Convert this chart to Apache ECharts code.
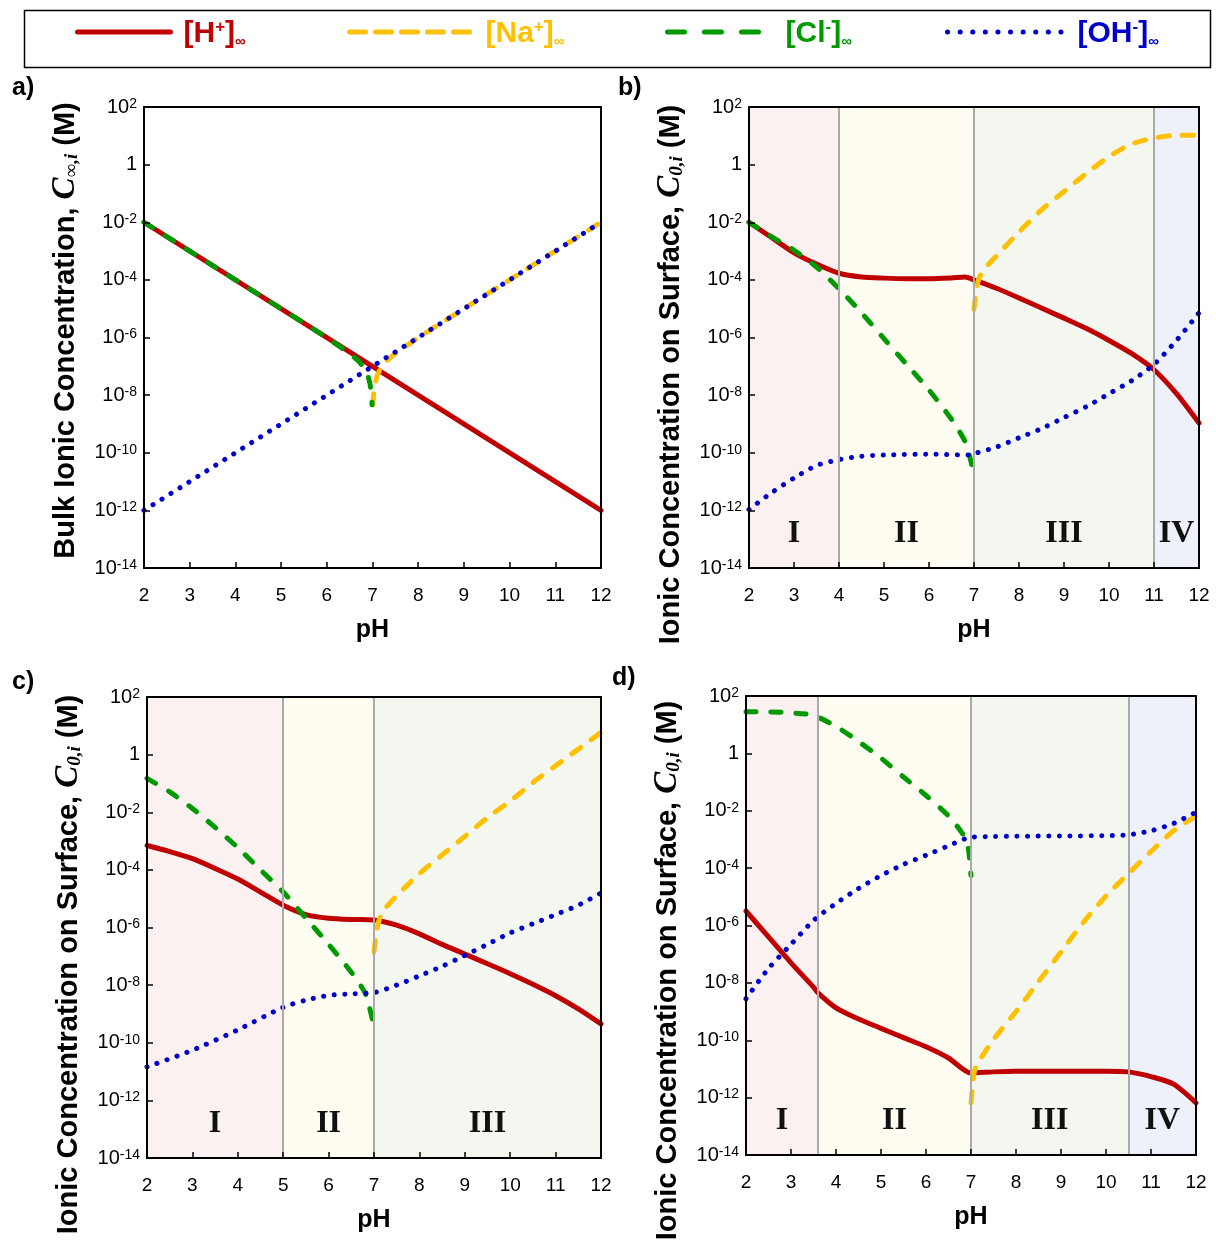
<!DOCTYPE html>
<html><head><meta charset="utf-8">
<script src="https://cdn.jsdelivr.net/npm/echarts@6.0.0/dist/echarts.min.js"></script>
<style>html,body{margin:0;padding:0;background:#fff}#c{width:1216px;height:1244px}</style>
</head><body><div id="c"></div>
<script>
// ---------- data (pH, concentration in M) ----------
const pHMin = 2, pHMax = 12;
const concMin = 1e-14, concMax = 1e2;

// a) bulk
const aH  = [[2,1e-2],[7,1e-7],[12,1e-12]];
const aNa = [[7.01,4.6e-9],[7.02,9e-9],[7.05,2.3e-8],[7.1,4.7e-8],[7.15,7e-8],[7.2,9.5e-8],[7.3,1.5e-7],[7.5,2.8e-7],[8,9.9e-7],[9,1e-5],[10,1e-4],[11,1e-3],[12,1e-2]];
const aCl = [[2,1e-2],[3,1e-3],[4,1e-4],[5,1e-5],[6,9.9e-7],[6.5,2.8e-7],[6.7,1.5e-7],[6.8,9.5e-8],[6.85,7e-8],[6.9,4.7e-8],[6.95,2.3e-8],[6.98,9e-9],[6.99,4.6e-9]];
const aOH = [[2,1e-12],[7,1e-7],[12,1e-2]];

// b) surface
const bH  = [[2,1e-2],[2.5,2.95e-3],[3,8.7e-4],[3.5,3.55e-4],[4,1.7e-4],[4.5,1.26e-4],[5,1.15e-4],[5.5,1.1e-4],[6,1.1e-4],[6.5,1.17e-4],[6.8,1.26e-4],[7,1e-4],[7.5,5.1e-5],[8,2.35e-5],[8.5,1.05e-5],[9,4.7e-6],[9.5,2.04e-6],[10,7.9e-7],[10.5,2.8e-7],[11,7.6e-8],[11.5,1.12e-8],[12,1.07e-9]];
const bNa = [[7,9.5e-6],[7.05,4.2e-5],[7.1,1e-4],[7.2,2.1e-4],[7.5,6.8e-4],[8,4.6e-3],[8.5,2.7e-2],[9,0.117],[9.5,0.5],[10,1.9],[10.5,5.2],[11,8.3],[11.5,10.5],[12,10.5]];
const bCl = [[2,1e-2],[2.5,3.16e-3],[3,1.07e-3],[3.5,2.8e-4],[4,4.9e-5],[4.5,7.2e-6],[5,9.1e-7],[5.5,1.17e-7],[6,1.5e-8],[6.5,1.45e-9],[6.8,2.5e-10],[6.9,7.9e-11],[7,1.8e-11]];
const bOH = [[2,1.07e-12],[2.5,4.1e-12],[3,1.32e-11],[3.5,3.6e-11],[4,5.75e-11],[4.5,7.6e-11],[5,8.3e-11],[6,8.9e-11],[6.9,8.3e-11],[7,9.3e-11],[7.5,1.58e-10],[8,3.3e-10],[8.5,6.9e-10],[9,1.66e-9],[9.5,4e-9],[10,1.12e-8],[10.5,3.16e-8],[11,1.17e-7],[11.5,7.9e-7],[12,7.2e-6]];

// c) surface
const cH  = [[2,7e-4],[2.5,4.3e-4],[3,2.45e-4],[3.5,1.12e-4],[4,4.8e-5],[4.5,1.7e-5],[5,5.9e-6],[5.5,2.8e-6],[6,2.1e-6],[6.5,1.9e-6],[7,1.82e-6],[7.5,1.2e-6],[8,6e-7],[8.5,2.6e-7],[9,1.2e-7],[9.5,5.5e-8],[10,2.5e-8],[10.5,1.07e-8],[11,4.3e-9],[11.5,1.5e-9],[12,4.5e-10]];
const cNa = [[7,1.45e-7],[7.05,6.5e-7],[7.1,1.55e-6],[7.2,3.8e-6],[7.5,1.26e-5],[8,7.4e-5],[8.5,3.3e-4],[9,1.45e-3],[9.5,6.5e-3],[10,2.45e-2],[10.5,0.107],[11,0.41],[11.5,1.55],[12,5.9]];
const cCl = [[2,0.15],[2.5,5.1e-2],[3,1.35e-2],[3.5,3e-3],[4,5.9e-4],[4.5,1e-4],[5,1.7e-5],[5.5,2.1e-6],[6,2.6e-7],[6.5,2.8e-8],[6.8,5.5e-9],[6.9,1.7e-9],[7,3.8e-10]];
const cOH = [[2,1.45e-11],[3,5.5e-11],[4,2.8e-10],[5,1.7e-9],[5.5,3e-9],[6,4.4e-9],[6.5,5e-9],[7,5.5e-9],[7.5,1e-8],[8,2.1e-8],[8.5,4.5e-8],[9,1.07e-7],[9.5,2.6e-7],[10,6.5e-7],[10.5,1.35e-6],[11,2.8e-6],[11.5,5.9e-6],[12,1.58e-5]];

// d) surface
const dH  = [[2,3.2e-6],[2.5,4e-7],[3,5e-8],[3.5,7.1e-9],[3.6,4.5e-9],[4,1.35e-9],[4.5,5.5e-10],[5,2.6e-10],[5.5,1.23e-10],[6,5.9e-11],[6.5,2.4e-11],[7,7.2e-12],[7.5,7.9e-12],[8,8.3e-12],[9,8.3e-12],[10,8.3e-12],[10.5,7.9e-12],[11,5.4e-12],[11.5,2.95e-12],[12,6.6e-13]];
const dNa = [[7,6.6e-13],[7.05,4.6e-12],[7.1,1.12e-11],[7.3,3.7e-11],[7.5,1.07e-10],[8,1e-9],[8.5,1.1e-8],[9,1.2e-7],[9.5,1.3e-6],[10,1.07e-5],[10.5,6.5e-5],[11,3.8e-4],[11.5,2e-3],[12,6.6e-3]];
const dCl = [[2,28],[2.5,28],[3,26],[3.5,21],[4,8.7],[4.5,2.6],[5,0.68],[5.5,0.15],[6,3.4e-2],[6.5,6.6e-3],[6.8,1.7e-3],[6.9,8.1e-4],[6.95,3.8e-4],[7,5.5e-5]];
const dOH = [[2,2.8e-9],[2.5,3.16e-8],[3,2.2e-7],[3.5,1.5e-6],[4,5.9e-6],[4.5,1.95e-5],[5,5.5e-5],[5.5,1.35e-4],[6,2.8e-4],[6.5,6e-4],[7,1.2e-3],[7.5,1.26e-3],[8,1.29e-3],[9,1.32e-3],[10,1.35e-3],[10.5,1.45e-3],[11,2e-3],[11.5,3.6e-3],[12,8.9e-3]];

// regions [from pH, to pH, label]
const bRegions = [[2,4,'I'],[4,7,'II'],[7,11,'III'],[11,12,'IV']];
const cRegions = [[2,5,'I'],[5,7,'II'],[7,12,'III']];
const dRegions = [[2,3.6,'I'],[3.6,7,'II'],[7,10.5,'III'],[10.5,12,'IV']];

const panelLabels = ['a)','b)','c)','d)'];

// ---------- styles / layout ----------
const SANS = "'Liberation Sans', Arial, Helvetica, sans-serif";
const SERIF = "'Liberation Serif', 'Times New Roman', serif";
const ionColor = {H:'#c00000', Na:'#ffc000', Cl:'#009a00', OH:'#0000cc'};
const ionDash = {H:'solid', Na:[11,13], Cl:[10,15], OH:[0.1,10.5]};
const legendDash = {H:'solid', Na:[16,10], Cl:[17,20], OH:[0.1,12.5]};
const regionColor = {I:'#fbf1f1', II:'#fffdf2', III:'#f3f7f0', IV:'#eef0fa'};

const grids = [
  {left:144, top:107, width:457, height:461},
  {left:749, top:107, width:450, height:461},
  {left:147, top:697, width:454, height:461},
  {left:746, top:696, width:450, height:459}
];
const panelData = [
  {H:aH, Na:aNa, Cl:aCl, OH:aOH, regions:null},
  {H:bH, Na:bNa, Cl:bCl, OH:bOH, regions:bRegions},
  {H:cH, Na:cNa, Cl:cCl, OH:cOH, regions:cRegions},
  {H:dH, Na:dNa, Cl:dCl, OH:dOH, regions:dRegions}
];
const labelPos = [[12,76],[618,76],[12,670],[612,666]];
const yNames = [
  'Bulk Ionic Concentration, {c|C}{s|∞,i} (M)',
  'Ionic Concentration on Surface, {c|C}{s|0,i} (M)',
  'Ionic Concentration on Surface, {c|C}{s|0,i} (M)',
  'Ionic Concentration on Surface, {c|C}{s|0,i} (M)'
];
const yNamePad = [[0,0,0,14],[0,74,0,0],[0,74,0,0],[0,90,0,0]];

function expLabel(v){
  const e = Math.round(Math.log10(v));
  return e === 0 ? '1' : '10{sup|' + e + '}';
}

const xAxes = [], yAxes = [], series = [];
grids.forEach((g, p) => {
  xAxes.push({
    gridIndex:p, type:'value', min:pHMin, max:pHMax, interval:1, z:10,
    name:'pH', nameLocation:'middle', nameGap:50,
    nameTextStyle:{fontFamily:SANS, fontWeight:'bold', fontSize:25, color:'#000'},
    axisLine:{show:true, onZero:false, lineStyle:{color:'#000', width:2}},
    axisTick:{show:true, inside:true, length:6, lineStyle:{color:'#000', width:1.5}},
    axisLabel:{fontFamily:SANS, fontSize:19, color:'#000', margin:18},
    splitLine:{show:false}
  });
  yAxes.push({
    gridIndex:p, type:'log', logBase:10, min:concMin, max:concMax, interval:2, z:10,
    name:yNames[p], nameLocation:'middle', nameRotate:90, nameGap:62,
    nameTextStyle:{fontFamily:SANS, fontWeight:'bold', fontSize:29, color:'#000', padding:yNamePad[p],
      rich:{
        c:{fontFamily:SERIF, fontStyle:'italic', fontWeight:'bold', fontSize:33, color:'#000'},
        s:{fontFamily:SERIF, fontStyle:'italic', fontWeight:'bold', fontSize:19, color:'#000', verticalAlign:'bottom'}
      }},
    axisLine:{show:true, onZero:false, lineStyle:{color:'#000', width:2}},
    axisTick:{show:true, inside:true, length:6, lineStyle:{color:'#000', width:1.5}},
    axisLabel:{fontFamily:SANS, fontSize:20, color:'#000', margin:7, formatter:expLabel,
      rich:{sup:{fontFamily:SANS, fontSize:14, color:'#000', verticalAlign:'top'}}},
    splitLine:{show:false}
  });
});
// frame: top and right edges
grids.forEach((g, p) => {
  xAxes.push({gridIndex:p, type:'value', position:'top', min:pHMin, max:pHMax, z:10,
    axisLine:{show:true, onZero:false, lineStyle:{color:'#000', width:2}},
    axisTick:{show:false}, axisLabel:{show:false}, splitLine:{show:false}});
  yAxes.push({gridIndex:p, type:'log', position:'right', min:concMin, max:concMax, z:10,
    axisLine:{show:true, onZero:false, lineStyle:{color:'#000', width:2}},
    axisTick:{show:false}, axisLabel:{show:false}, splitLine:{show:false}});
});

panelData.forEach((pd, p) => {
  if (pd.regions) {
    series.push({
      type:'line', name:'regions'+p, data:[], xAxisIndex:p, yAxisIndex:p, z:1, silent:true,
      markArea:{silent:true,
        label:{show:true, position:'insideBottom', distance:18, fontFamily:SERIF, fontWeight:'bold', fontSize:32, color:'#111'},
        data: pd.regions.map(r => [{xAxis:r[0], name:r[2], itemStyle:{color:regionColor[r[2]]}}, {xAxis:r[1]}])
      },
      markLine:{silent:true, symbol:['none','none'], label:{show:false},
        lineStyle:{color:'#aaaaaa', width:2, type:'solid'},
        data: pd.regions.slice(1).map(r => ({xAxis:r[0]}))
      }
    });
  }
  ['H','Na','Cl','OH'].forEach(ion => {
    series.push({
      type:'line', name:ion, data:pd[ion], xAxisIndex:p, yAxisIndex:p, z:3,
      showSymbol:false, symbol:'none', smooth:(p === 0 ? false : 0.25), animation:false,
      lineStyle:{color:ionColor[ion], width:5, type:ionDash[ion], cap:'round'},
      itemStyle:{color:ionColor[ion]}
    });
  });
});

const legendText = {
  H:'{b|[H}{p|+}{b|]}{s|∞}',
  Na:'{b|[Na}{p|+}{b|]}{s|∞}',
  Cl:'{b|[Cl}{p|-}{b|]}{s|∞}',
  OH:'{b|[OH}{p|-}{b|]}{s|∞}'
};
const legendLayout = {H:[75,93], Na:[347,123], Cl:[665,105], OH:[945,117]};
const legends = ['H','Na','Cl','OH'].map(ion => ({
  data:[ion], left:legendLayout[ion][0], top:19, itemWidth:legendLayout[ion][1], itemHeight:28,
  selectedMode:false, padding:0,
  itemStyle:{opacity:0},
  lineStyle:{color:ionColor[ion], width:5, type:legendDash[ion], cap:'round'},
  formatter: n => legendText[n],
  textStyle:{color:ionColor[ion], padding:[4,0,0,8],
    rich:{
      b:{fontFamily:SANS, fontWeight:'bold', fontSize:30, color:ionColor[ion]},
      p:{fontFamily:SANS, fontWeight:'bold', fontSize:17, color:ionColor[ion], verticalAlign:'top'},
      s:{fontFamily:SANS, fontWeight:'bold', fontSize:15, color:ionColor[ion], verticalAlign:'bottom'}
    }}
}));

const graphics = [{type:'rect', left:22, top:8, shape:{width:1186, height:57},
  style:{fill:'none', stroke:'#000', lineWidth:1.5}, silent:true}];
panelLabels.forEach((t, i) => graphics.push({type:'text', left:labelPos[i][0], top:labelPos[i][1],
  style:{text:t, fontFamily:SANS, fontWeight:'bold', fontSize:25, fill:'#000'}}));

const chart = echarts.init(document.getElementById('c'), null, {renderer:'canvas'});
chart.setOption({
  backgroundColor:'#ffffff',
  animation:false,
  grid: grids.map(g => Object.assign({containLabel:false}, g)),
  xAxis: xAxes,
  yAxis: yAxes,
  legend: legends,
  graphic: graphics,
  series: series
});
</script></body></html>
